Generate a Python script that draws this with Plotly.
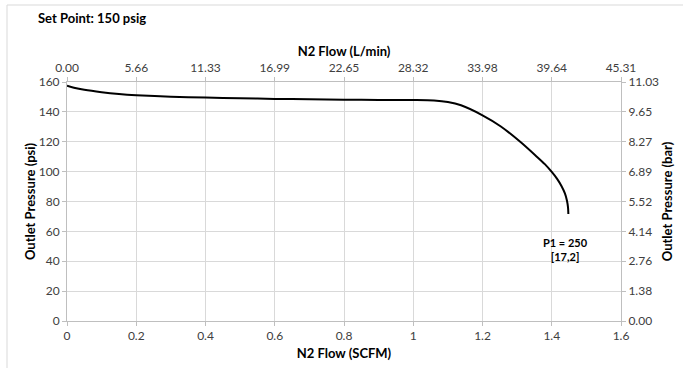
import plotly.graph_objects as go

# Data
flow_scfm = [0, 0.02, 0.05, 0.1, 0.15, 0.2, 0.3, 0.4, 0.5, 0.6, 0.7, 0.8, 0.9, 1.0,
             1.06, 1.1, 1.138, 1.2, 1.252, 1.309, 1.356, 1.38, 1.4, 1.415, 1.428,
             1.438, 1.444, 1.447, 1.448]
pressure_psi = [157.5, 156.2, 154.8, 153.2, 152.0, 151.2, 150.2, 149.6, 149.1, 148.7,
                148.4, 148.2, 148.0, 147.9, 147.6, 146.6, 144.4, 137.7, 130.4, 120.0,
                110.2, 105.0, 99.8, 95.3, 90.4, 85.4, 80.5, 76.0, 71.6]

x_ticks = [0, 0.2, 0.4, 0.6, 0.8, 1.0, 1.2, 1.4, 1.6]
x_labels = ["0", "0.2", "0.4", "0.6", "0.8", "1", "1.2", "1.4", "1.6"]
y_ticks = [0, 20, 40, 60, 80, 100, 120, 140, 160]
lmin_labels = ["0.00", "5.66", "11.33", "16.99", "22.65", "28.32", "33.98", "39.64", "45.31"]
bar_labels = ["0.00", "1.38", "2.76", "4.14", "5.52", "6.89", "8.27", "9.65", "11.03"]

FONT = "Lato, 'Open Sans', sans-serif"
GRID = "#d9d9d9"
AX = "#bfbfbf"
TXT = "#404040"

L, R, T, B = 67, 62, 82, 47
PW = 683 - L - R
PH = 368 - T - B

fig = go.Figure()
fig.add_trace(go.Scatter(x=flow_scfm, y=pressure_psi, mode="lines",
                         line=dict(color="black", width=2, shape="spline", smoothing=0.8),
                         showlegend=False, hoverinfo="skip"))
fig.add_trace(go.Scatter(x=[0, 1.6], y=[0, 160], xaxis="x2", yaxis="y2", mode="markers",
                         marker=dict(opacity=0), showlegend=False, hoverinfo="skip"))

tickfont = dict(family=FONT, size=12, color=TXT)
titlefont = dict(family=FONT, size=13, color="black", weight="bold")

common = dict(showline=True, linecolor=AX, linewidth=1, ticks="outside", ticklen=4,
              tickcolor=AX, tickfont=tickfont, zeroline=False, automargin=False)

fig.update_layout(
    width=683, height=368,
    margin=dict(l=L, r=R, t=T, b=B),
    paper_bgcolor="white", plot_bgcolor="white",
    font=dict(family=FONT),
    xaxis=dict(range=[0, 1.6], tickvals=x_ticks, ticktext=x_labels,
               showgrid=True, gridcolor=GRID, gridwidth=1,
               title=dict(text="N2 Flow (SCFM)", font=titlefont, standoff=6), **common),
    xaxis2=dict(range=[0, 1.6], tickvals=x_ticks, ticktext=lmin_labels,
                overlaying="x", side="top", showgrid=False,
                title=dict(text="N2 Flow (L/min)", font=titlefont, standoff=0), **common),
    yaxis=dict(range=[0, 160], tickvals=y_ticks,
               showgrid=True, gridcolor=GRID, gridwidth=1,
               title=dict(text="Outlet Pressure (psi)", font=titlefont, standoff=0), **common),
    yaxis2=dict(range=[0, 160], tickvals=y_ticks, ticktext=bar_labels,
                overlaying="y", side="right", showgrid=False,
                title=dict(text="Outlet Pressure (bar)", font=titlefont, standoff=4), **common),
    annotations=[
        dict(text="<b>Set Point: 150 psig</b>", xref="paper", yref="paper",
             x=(36 - L) / PW, y=1 + (T - 18) / PH, xanchor="left", yanchor="middle",
             showarrow=False, font=dict(family=FONT, size=13, color="black")),
        dict(text="<b>P1 = 250<br>[17,2]</b>", x=1.44, y=48, xref="x", yref="y",
             showarrow=False, align="center",
             font=dict(family=FONT, size=11, color="black")),
    ],
    shapes=[
        dict(type="rect", xref="paper", yref="paper",
             x0=(7 - L) / PW, x1=(690 - L) / PW,
             y0=-(380 - (368 - B)) / PH, y1=1 + (T - 5) / PH,
             line=dict(color="#d9d9d9", width=1), fillcolor="rgba(0,0,0,0)", layer="above"),
    ],
)

fig.write_html("out.html", config={"displayModeBar": False},
               post_script="document.body.style.margin='0';document.body.style.overflow='hidden';")
